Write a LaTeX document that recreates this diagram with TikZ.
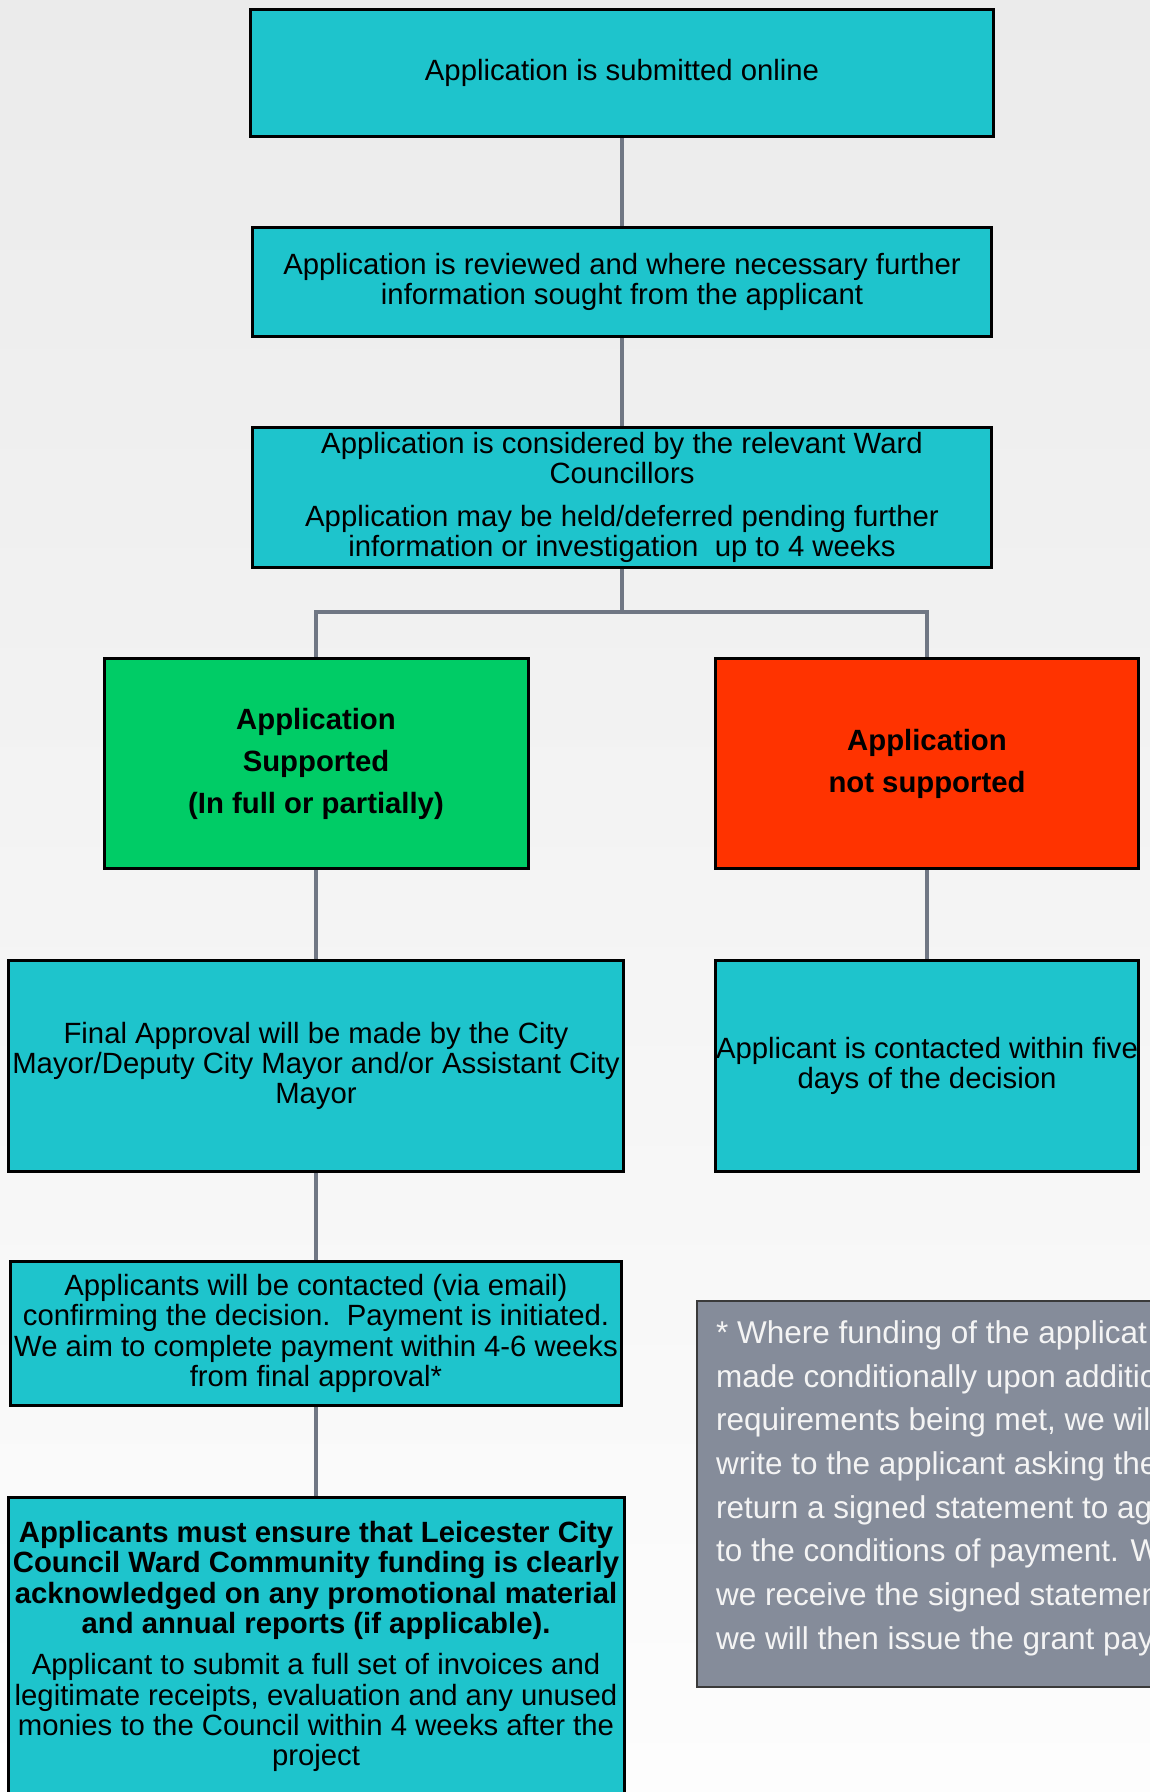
\documentclass[tikz,border=0pt]{standalone}
\usepackage{fontspec}
\setmainfont{Liberation Sans}
\usetikzlibrary{backgrounds}
\definecolor{tealbox}{RGB}{30,196,204}
\definecolor{greenbox}{RGB}{0,204,102}
\definecolor{redbox}{RGB}{255,51,0}
\definecolor{notefill}{RGB}{133,140,154}
\definecolor{notetext}{RGB}{244,244,244}
\definecolor{noteborder}{RGB}{58,58,58}
\definecolor{connc}{RGB}{112,119,132}
\definecolor{bgtop}{RGB}{235,235,235}
\definecolor{bgbot}{RGB}{253,253,253}
\begin{document}
\begin{tikzpicture}[x=1pt,y=-1pt,
  flowbox/.style={draw=black, line width=3pt, fill=tealbox, inner sep=0pt, align=center,
    font=\fontsize{29.3}{30.3}\selectfont},
  boldbox/.style={draw=black, line width=3pt, inner sep=0pt, align=center,
    font=\bfseries\fontsize{29.3}{42}\selectfont},
  conn/.style={draw=connc, line width=3.5pt}]
\useasboundingbox (0,0) rectangle (1150,1792);
\begin{scope}
\clip (0,0) rectangle (1150,1792);
\node[flowbox, minimum width=743pt, minimum height=127pt] (b1) at (622,73) {Application is submitted online};
\node[flowbox, minimum width=739pt, minimum height=109pt] (b2) at (622,282) {Application is reviewed and where necessary further\\information sought from the applicant};
\node[flowbox, minimum width=739pt, minimum height=140pt] (b3) at (622,497.5) {Application is considered by the relevant Ward\\Councillors\\[12pt]Application may be held/deferred pending further\\information or investigation\ \ up to 4 weeks};
\node[boldbox, fill=greenbox, minimum width=424pt, minimum height=210pt] (green) at (316,763.5) {Application\\Supported\\(In full or partially)};
\node[boldbox, fill=redbox, minimum width=423pt, minimum height=210pt] (red) at (927,763.5) {Application\\not supported};
\node[flowbox, minimum width=615pt, minimum height=211pt] (final) at (316,1066) {Final Approval will be made by the City\\Mayor/Deputy City Mayor and/or Assistant City\\Mayor};
\node[flowbox, minimum width=423pt, minimum height=211pt] (contacted) at (927,1066) {Applicant is contacted within five\\days of the decision};
\node[flowbox, minimum width=611pt, minimum height=144pt] (email) at (316,1333.5) {Applicants will be contacted (via email)\\confirming the decision.\ \ Payment is initiated.\\We aim to complete payment within 4-6 weeks\\from final approval*};
\node[flowbox, minimum width=616pt, minimum height=400pt, anchor=north] (fund) at (316,1495.5) {};
\node[inner sep=0pt, align=center, anchor=north, font=\fontsize{29.3}{30.3}\selectfont] (fundtxt) at (316,1521) {\bfseries Applicants must ensure that Leicester City\\\bfseries Council Ward Community funding is clearly\\\bfseries acknowledged on any promotional material\\\bfseries and annual reports (if applicable).\\[11.3pt]\mdseries Applicant to submit a full set of invoices and\\\mdseries legitimate receipts, evaluation and any unused\\\mdseries monies to the Council within 4 weeks after the\\\mdseries project};
\node[draw=noteborder, line width=2pt, fill=notefill, anchor=north west, inner sep=0pt, minimum width=500pt, minimum height=386pt] (notebox) at (695.5,1300) {};
\node[inner sep=0pt, anchor=north west, align=left, text=notetext, font=\fontsize{31.5}{43.7}\selectfont] (notetxt) at (716,1320.3) {* Where funding of the applicat\\made conditionally upon additio\\requirements being met, we wil\\write to the applicant asking the\\return a signed statement to ag\\to the conditions of payment. W\\we receive the signed statemen\\we will then issue the grant pay};
\end{scope}
\begin{pgfonlayer}{background}
\shade[top color=bgtop, bottom color=bgbot] (0,0) rectangle (1150,1792);
\coordinate (split) at (622,612);
\draw[conn] (b1) -- (b2);
\draw[conn] (b2) -- (b3);
\draw[conn] (b3.south) -- (split);
\draw[conn] (split) -| (green.north);
\draw[conn] (split) -| (red.north);
\draw[conn] (green) -- (final);
\draw[conn] (red) -- (contacted);
\draw[conn] (final) -- (email);
\draw[conn] (email) -- (fund);
\end{pgfonlayer}
\end{tikzpicture}
\end{document}
